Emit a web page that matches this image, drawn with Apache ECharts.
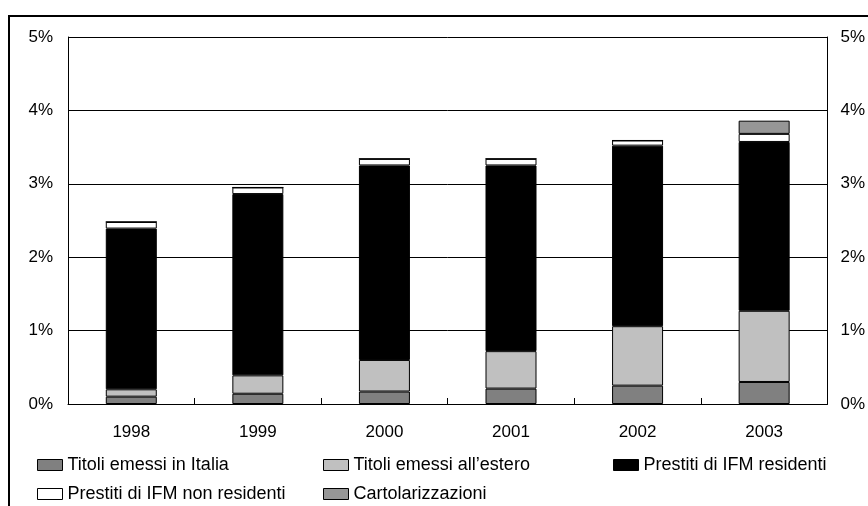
<!DOCTYPE html>
<html>
<head>
<meta charset="utf-8">
<script src="https://cdn.jsdelivr.net/npm/echarts@6/dist/echarts.min.js"></script>
<style>
html,body{margin:0;padding:0;background:#fff;}
#c{width:868px;height:506px;}
</style>
</head>
<body>
<div id="c"></div>
<script>
const categories = ['1998', '1999', '2000', '2001', '2002', '2003'];
const titoliItalia = [0.10, 0.14, 0.17, 0.21, 0.25, 0.30];
const titoliEstero = [0.10, 0.25, 0.43, 0.51, 0.81, 0.97];
const prestitiResidenti = [2.19, 2.47, 2.65, 2.53, 2.46, 2.30];
const prestitiNonResidenti = [0.09, 0.09, 0.09, 0.09, 0.07, 0.11];
const cartolarizzazioni = [0, 0, 0, 0, 0, 0.18];
const yTicks = [0, 1, 2, 3, 4, 5];

const names = ['Titoli emessi in Italia', 'Titoli emessi all\u2019estero', 'Prestiti di IFM residenti', 'Prestiti di IFM non residenti', 'Cartolarizzazioni'];
const colors = ['#808080', '#c0c0c0', '#000000', '#ffffff', '#969696'];
const datas = [titoliItalia, titoliEstero, prestitiResidenti, prestitiNonResidenti, cartolarizzazioni];
const legendPos = [[37, 456], [323, 456], [613, 456], [37, 485], [323, 485]];

const font = 'Liberation Sans, Arial, sans-serif';
const fs = 17;
const chart = echarts.init(document.getElementById('c'), null, {renderer: 'canvas'});

chart.setOption({
  animation: false,
  backgroundColor: '#fff',
  graphic: [{
    type: 'rect', z: -1, silent: true,
    shape: {x: 9, y: 16, width: 900, height: 600},
    style: {fill: null, stroke: '#000', lineWidth: 2}
  }],
  legend: names.map((n, i) => ({
    left: legendPos[i][0],
    top: legendPos[i][1],
    padding: 0,
    itemWidth: 25,
    itemHeight: 11,
    icon: 'rect',
    selectedMode: false,
    data: [n],
    textStyle: {fontFamily: font, fontSize: 18, color: '#000'},
    itemStyle: {borderColor: '#000', borderWidth: 1}
  })),
  grid: {left: 68, right: 39, top: 37, bottom: 102, containLabel: false},
  xAxis: {
    type: 'category',
    data: categories,
    axisLine: {show: true, lineStyle: {color: '#000', width: 1}},
    axisTick: {show: true, inside: true, length: 6, lineStyle: {color: '#000'}},
    axisLabel: {fontFamily: font, fontSize: fs, color: '#000', margin: 20}
  },
  yAxis: [{
    type: 'value', min: 0, max: 5, interval: 1,
    axisLine: {show: true, lineStyle: {color: '#000', width: 1}},
    axisTick: {show: false},
    splitLine: {show: true, lineStyle: {color: '#000', width: 1}},
    axisLabel: {fontFamily: font, fontSize: fs, color: '#000', margin: 15,
      formatter: v => yTicks.includes(v) ? v + '%' : ''}
  }, {
    type: 'value', min: 0, max: 5, interval: 1, position: 'right',
    axisLine: {show: true, lineStyle: {color: '#000', width: 1}},
    axisTick: {show: false},
    splitLine: {show: false},
    axisLabel: {fontFamily: font, fontSize: fs, color: '#000', margin: 13,
      formatter: v => yTicks.includes(v) ? v + '%' : ''}
  }],
  series: names.map((n, i) => ({
    name: n,
    type: 'bar',
    stack: 'tot',
    barWidth: 51,
    data: datas[i],
    itemStyle: {color: colors[i], borderColor: '#000', borderWidth: 1}
  }))
});
</script>
</body>
</html>
